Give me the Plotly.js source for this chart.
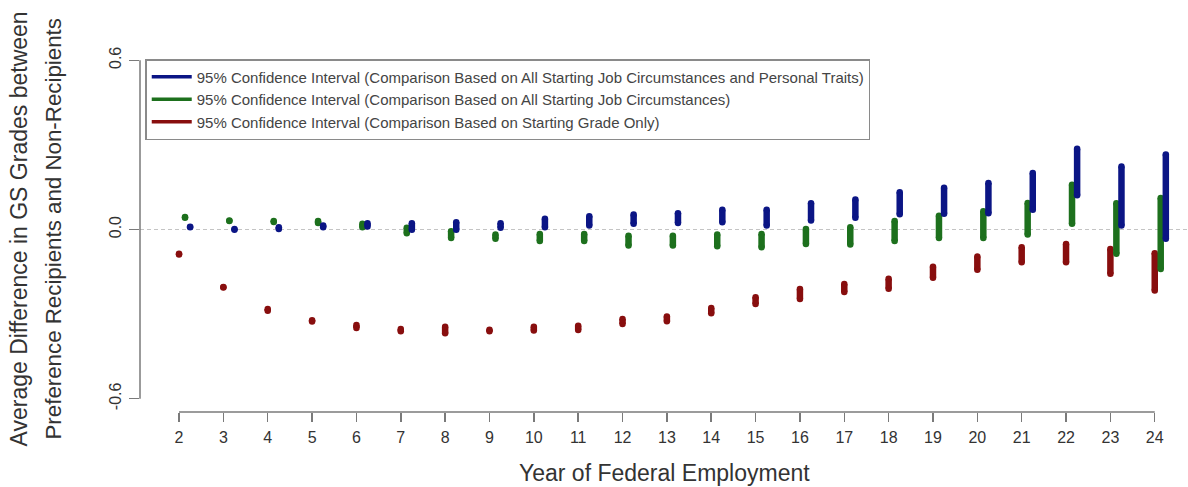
<!DOCTYPE html>
<html>
<head>
<meta charset="utf-8">
<script src="https://cdn.plot.ly/plotly-3.0.1.min.js"></script>
<style>html,body{margin:0;padding:0;background:#fff;}#chart{width:1188px;height:487px;}</style>
</head>
<body>
<div id="chart"></div>
<script>
const years = [2,3,4,5,6,7,8,9,10,11,12,13,14,15,16,17,18,19,20,21,22,23,24];

const seriesNames = [
  "95% Confidence Interval (Comparison Based on All Starting Job Circumstances and Personal Traits)",
  "95% Confidence Interval (Comparison Based on All Starting Job Circumstances)",
  "95% Confidence Interval (Comparison Based on Starting Grade Only)"
];

// Blue: all starting job circumstances and personal traits
const blueUpper = [0.010,0.002,0.008,0.014,0.022,0.022,0.026,0.022,0.038,0.047,0.053,0.058,0.070,0.070,0.093,0.106,0.132,0.148,0.165,0.200,0.286,0.223,0.266];
const blueLower = [0.008,-0.001,0.002,0.008,0.011,-0.001,-0.001,0.006,0.008,0.014,0.020,0.023,0.026,0.014,0.032,0.042,0.054,0.056,0.058,0.070,0.121,0.014,-0.033];

// Green: all starting job circumstances
const greenUpper = [0.044,0.032,0.030,0.030,0.020,0.006,-0.006,-0.018,-0.016,-0.016,-0.022,-0.022,-0.018,-0.016,0.002,0.008,0.030,0.049,0.065,0.094,0.159,0.093,0.112];
const greenLower = [0.042,0.030,0.027,0.023,0.008,-0.013,-0.030,-0.033,-0.041,-0.041,-0.057,-0.057,-0.059,-0.063,-0.051,-0.053,-0.041,-0.030,-0.030,-0.018,0.020,-0.086,-0.140];

// Red: starting grade only
const redUpper = [-0.086,-0.204,-0.282,-0.322,-0.339,-0.353,-0.345,-0.355,-0.345,-0.341,-0.317,-0.308,-0.278,-0.240,-0.211,-0.193,-0.175,-0.132,-0.096,-0.063,-0.051,-0.069,-0.084];
const redLower = [-0.089,-0.206,-0.288,-0.326,-0.349,-0.361,-0.368,-0.361,-0.358,-0.356,-0.335,-0.325,-0.297,-0.264,-0.246,-0.222,-0.210,-0.171,-0.143,-0.116,-0.116,-0.157,-0.216];

const xTicks = years;
const yTickVals = [-0.6, 0, 0.6];
const yTickText = ["-0.6", "0.0", "0.6"];

const colors = ["#0b1585", "#1d701d", "#880e0e"];
const offsets = [0.25, 0.135, 0.0];
const uppers = [blueUpper, greenUpper, redUpper];
const lowers = [blueLower, greenLower, redLower];

const traces = [];
// draw red first, then green, then blue on top
[2,1,0].forEach(function(k){
  const xs = [], ys = [];
  years.forEach(function(yr, i){
    xs.push(yr + offsets[k], yr + offsets[k], null);
    ys.push(lowers[k][i], uppers[k][i], null);
  });
  traces.push({
    type: "scatter", mode: "lines+markers", x: xs, y: ys,
    line: {color: colors[k], width: 6.5},
    marker: {color: colors[k], size: 6.5, line: {width: 0}},
    connectgaps: false, showlegend: false, hoverinfo: "skip"
  });
});
// legend entries
[0,1,2].forEach(function(k){
  traces.push({
    type: "scatter", mode: "lines", x: [null], y: [null],
    name: seriesNames[k], line: {color: colors[k], width: 3.5},
    showlegend: true
  });
});

const layout = {
  width: 1188, height: 487,
  margin: {l: 140, r: 0, t: 47, b: 75},
  paper_bgcolor: "#ffffff", plot_bgcolor: "#ffffff",
  font: {family: "Liberation Sans, Arial, sans-serif", color: "#333"},
  showlegend: true,
  legend: {
    x: 0.005, y: 0.967, xanchor: "left", yanchor: "top",
    bgcolor: "#ffffff", bordercolor: "#8a8a8a", borderwidth: 1.5,
    font: {size: 15, color: "#444", family: "Liberation Sans, Arial, sans-serif"},
    tracegroupgap: 0, itemwidth: 40
  },
  xaxis: {
    range: [1.12, 24.75], tickmode: "array", tickvals: xTicks,
    ticktext: xTicks.map(String),
    ticks: "outside", ticklen: 9, tickwidth: 1.5, tickcolor: "#7a7a7a",
    showgrid: false, zeroline: false, showline: false, ticklabelstandoff: 2,
    tickfont: {size: 16, color: "#333"}, fixedrange: true
  },
  yaxis: {
    range: [-0.647, 0.647], tickmode: "array", tickvals: yTickVals, ticktext: yTickText,
    ticks: "outside", ticklen: 10, tickwidth: 1.5, tickcolor: "#7a7a7a",
    showgrid: false, zeroline: false, showline: false, tickangle: -90,
    ticklabelstandoff: 2,
    tickfont: {size: 16, color: "#333"}, fixedrange: true
  },
  shapes: [
    {type: "line", xref: "paper", x0: 0, x1: 1, yref: "y", y0: 0, y1: 0,
     line: {color: "#c4c4c4", width: 1.2, dash: "4px,3px"}, layer: "below"},
    {type: "line", xref: "x", x0: 2, x1: 24, yref: "paper", y0: 0, y1: 0,
     line: {color: "#7a7a7a", width: 1.5}},
    {type: "line", xref: "paper", x0: 0, x1: 0, yref: "y", y0: -0.6, y1: 0.6,
     line: {color: "#7a7a7a", width: 1.5}}
  ],
  annotations: [
    {text: "Year of Federal Employment", xref: "paper", yref: "paper", x: 0.5, y: 0,
     xanchor: "center", yanchor: "middle", yshift: -61, showarrow: false,
     font: {size: 23, color: "#333"}},
    {text: "Average Difference in GS Grades between", xref: "paper", yref: "paper", x: 0, y: 0.5,
     xanchor: "center", yanchor: "middle", xshift: -122, textangle: -90, showarrow: false,
     font: {size: 23, color: "#333"}},
    {text: "Preference Recipients and Non-Recipients", xref: "paper", yref: "paper", x: 0, y: 0.5,
     xanchor: "center", yanchor: "middle", xshift: -87, textangle: -90, showarrow: false,
     font: {size: 22.3, color: "#333"}}
  ]
};

Plotly.newPlot("chart", traces, layout, {staticPlot: true, displayModeBar: false});
</script>
</body>
</html>
